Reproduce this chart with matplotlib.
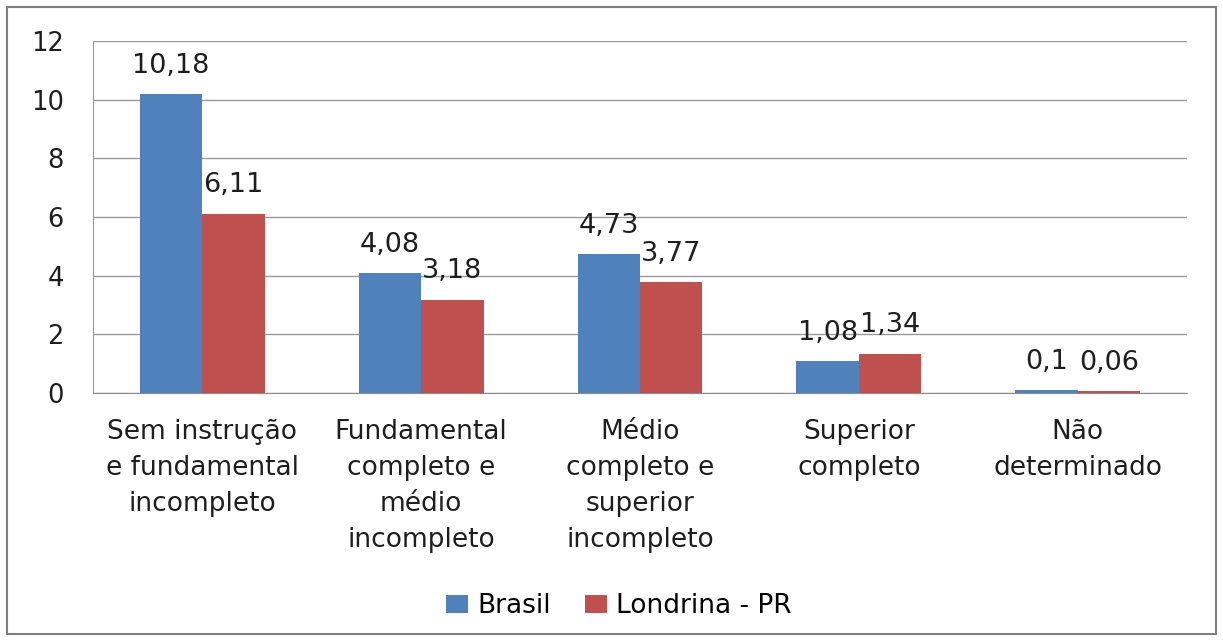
import numpy as np
import matplotlib.pyplot as plt
from matplotlib.patches import Rectangle

plt.rcParams["font.family"] = ["DejaVu Sans"]

# dados
categorias = ["Sem instrução\ne fundamental\nincompleto",
              "Fundamental\ncompleto e\nmédio\nincompleto",
              "Médio\ncompleto e\nsuperior\nincompleto",
              "Superior\ncompleto",
              "Não\ndeterminado"]
brasil = [10.18, 4.08, 4.73, 1.08, 0.1]
londrina = [6.11, 3.18, 3.77, 1.34, 0.06]
rotulos_brasil = ["10,18", "4,08", "4,73", "1,08", "0,1"]
rotulos_londrina = ["6,11", "3,18", "3,77", "1,34", "0,06"]
yticks = [0, 2, 4, 6, 8, 10, 12]

cor_azul = "#4F81BD"
cor_verm = "#C0504D"
cor_txt = "#1e1e1e"

fig = plt.figure(figsize=(12.23, 6.41), dpi=100)
ax = fig.add_axes([0.076, 0.387, 0.8946, 0.549])

x = np.arange(len(categorias))
w = 0.285
b1 = ax.bar(x - w / 2, brasil, w, color=cor_azul, label="Brasil", zorder=3)
b2 = ax.bar(x + w / 2, londrina, w, color=cor_verm, label="Londrina - PR", zorder=3)

for rect, txt in zip(b1, rotulos_brasil):
    ax.annotate(txt, (rect.get_x() + rect.get_width() / 2, rect.get_height()),
                xytext=(0, 11), textcoords="offset points", ha="center", va="bottom",
                fontsize=19.5, color=cor_txt, zorder=4)
for rect, txt in zip(b2, rotulos_londrina):
    ax.annotate(txt, (rect.get_x() + rect.get_width() / 2, rect.get_height()),
                xytext=(0, 11), textcoords="offset points", ha="center", va="bottom",
                fontsize=19.5, color=cor_txt, zorder=4)

ax.set_xlim(-0.5, len(categorias) - 0.5)
ax.set_ylim(0, 12)
ax.set_yticks(yticks)
ax.set_yticklabels([str(v) for v in yticks], fontsize=18.5, color=cor_txt)
ax.set_xticks(x)
ax.set_xticklabels(categorias, fontsize=19, color=cor_txt, linespacing=1.49, va="top")
ax.tick_params(axis="y", length=0, pad=21)
ax.tick_params(axis="x", length=0, pad=19)

ax.grid(axis="y", color="#9a9a9a", linewidth=1, zorder=0)
for s in ["top", "right"]:
    ax.spines[s].set_visible(False)
ax.spines["left"].set_color("#9a9a9a")
ax.spines["bottom"].set_color("#8a8a8a")

fig.legend(handles=[b1, b2], loc="center", bbox_to_anchor=(0.506, 0.054), ncol=2,
           frameon=False, fontsize=19, handlelength=0.83, handleheight=0.68,
           columnspacing=1.3, handletextpad=0.34)

# moldura externa
fig.patches.append(Rectangle((0.006, 0.011), 0.988, 0.978, transform=fig.transFigure,
                             fill=False, edgecolor="#7f7f7f", linewidth=1.5))

fig.savefig("out.png", dpi=100)
